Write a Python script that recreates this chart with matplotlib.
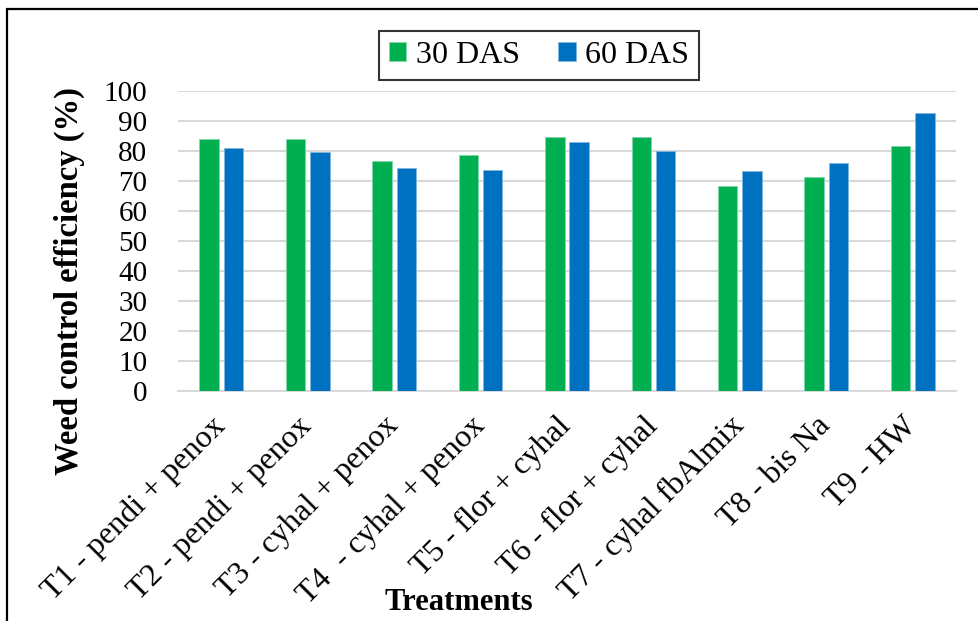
import matplotlib
matplotlib.use("Agg")
import matplotlib.pyplot as plt
from matplotlib.patches import Rectangle
import numpy as np

# dados
treatments = ["T1 - pendi + penox", "T2 - pendi + penox", "T3 - cyhal + penox",
              "T4  - cyhal + penox", "T5 - flor + cyhal", "T6 - flor + cyhal",
              "T7 - cyhal fbAlmix", "T8 - bis Na", "T9 - HW"]
das30 = [83.9, 84.0, 76.6, 78.6, 84.7, 84.6, 68.4, 71.2, 81.6]
das60 = [81.1, 79.8, 74.2, 73.6, 82.9, 79.9, 73.3, 75.9, 92.6]
yticks = list(range(0, 101, 10))

plt.rcParams["font.family"] = ["Liberation Serif", "DejaVu Serif"]

fig = plt.figure(figsize=(9.79, 6.21), dpi=100)
ax = fig.add_axes([0.1818, 0.3704, 0.7947, 0.4831])

x = np.arange(len(treatments))
w = 0.225
ax.bar(x - 0.141, das30, w, color="#00B050", edgecolor="#7FD8A7", linewidth=0.6, label="30 DAS", zorder=3)
ax.bar(x + 0.141, das60, w, color="#0070C0", edgecolor="#7FB7DF", linewidth=0.6, label="60 DAS", zorder=3)

ax.set_xlim(-0.5, len(treatments) - 0.5)
ax.set_ylim(0, 100)
ax.set_yticks(yticks)
ax.set_yticklabels([str(v) for v in yticks], fontsize=21)
ax.set_xticks(x)
ax.set_xticklabels(treatments, fontsize=23, rotation=45, ha="right",
                   rotation_mode="anchor", va="center")
ax.tick_params(axis="both", length=0)
ax.tick_params(axis="y", pad=22)
ax.tick_params(axis="x", pad=22)

ax.grid(axis="y", color="#D9D9D9", linewidth=1.5, zorder=0)
for s in ["top", "right", "left"]:
    ax.spines[s].set_visible(False)
ax.spines["bottom"].set_color("#D9D9D9")
ax.spines["bottom"].set_linewidth(1.5)

fig.text(0.071, 0.547, "Weed control efficiency (%)", rotation=90, fontsize=23.5,
         fontweight="bold", ha="center", va="center")
fig.text(0.469, 0.03, "Treatments", fontsize=22, fontweight="bold",
         ha="center", va="center")

leg = fig.legend(loc="center", bbox_to_anchor=(0.5506, 0.9106), ncol=2, fontsize=23,
                 frameon=True, fancybox=False, handlelength=0.55, handleheight=0.55,
                 handletextpad=0.3, columnspacing=1.2, borderpad=0.3, borderaxespad=0)
leg.get_frame().set_edgecolor("black")
leg.get_frame().set_linewidth(1.5)

fig.patches.append(Rectangle((0.0072, -0.1), 1.2, 0.9855 + 0.1, transform=fig.transFigure,
                             fill=False, edgecolor="black", linewidth=1.6))

fig.savefig("out.png", dpi=100)
